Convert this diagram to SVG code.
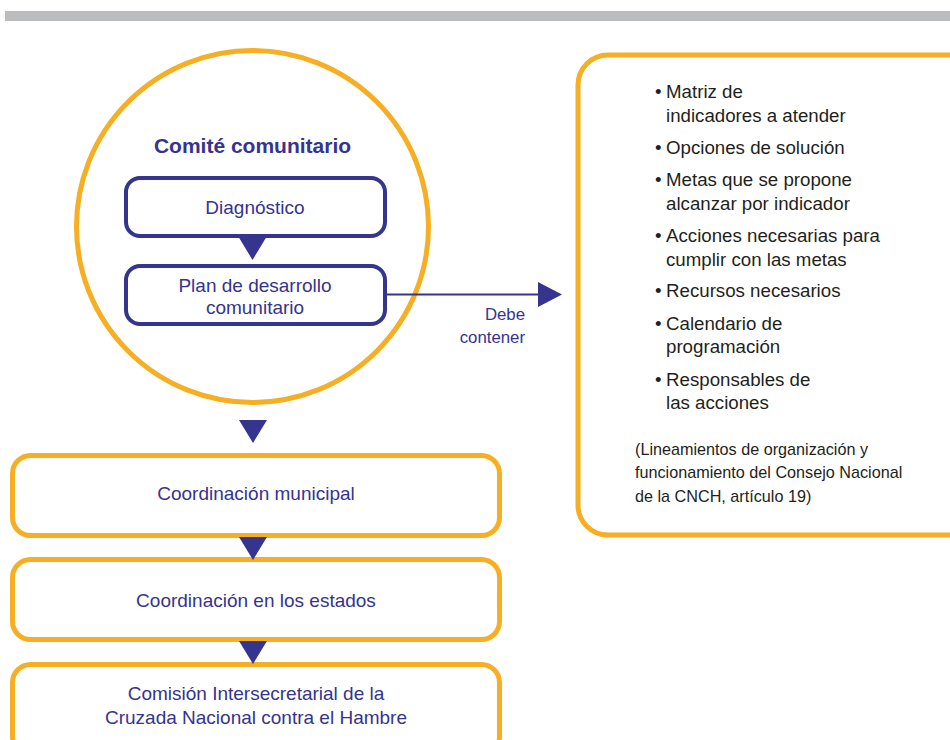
<svg xmlns="http://www.w3.org/2000/svg" width="950" height="740" viewBox="0 0 950 740">
<style>
.org{fill:#fff;stroke:#F6AE23;stroke-width:5}
.nav{fill:#fff;stroke:#35348F;stroke-width:4}
.t{font-family:"Liberation Sans",Arial,sans-serif;fill:#35348F;font-size:19px;text-anchor:middle}
.b{font-family:"Liberation Sans",Arial,sans-serif;fill:#231F20;font-size:18.7px}
.c{font-family:"Liberation Sans",Arial,sans-serif;fill:#231F20;font-size:16.2px}
.tri{fill:#35348F}
</style>
<rect x="5" y="11" width="945" height="10" fill="#BBBCBE"/>
<g id="comite">
<circle class="org" cx="252.5" cy="226.5" r="176"/>
<text class="t" x="252.5" y="153" style="font-weight:bold;font-size:21px">Comité comunitario</text>
</g>
<g id="diagnostico">
<rect class="nav" x="126" y="178" width="259" height="58" rx="14"/>
<text class="t" x="255" y="214">Diagnóstico</text>
</g>
<g id="plan">
<rect class="nav" x="126" y="266" width="259" height="58" rx="14"/>
<text class="t" x="255" y="292">Plan de desarrollo</text>
<text class="t" x="255" y="314">comunitario</text>
</g>
<g id="contenido">
<rect class="org" x="578" y="55" width="400" height="480" rx="30"/>
<g class="b">
<text x="655" y="98">•</text><text x="666" y="98">Matriz de</text>
<text x="666" y="122">indicadores a atender</text>
<text x="655" y="154">•</text><text x="666" y="154">Opciones de solución</text>
<text x="655" y="186">•</text><text x="666" y="186">Metas que se propone</text>
<text x="666" y="210">alcanzar por indicador</text>
<text x="655" y="242">•</text><text x="666" y="242">Acciones necesarias para</text>
<text x="666" y="266">cumplir con las metas</text>
<text x="655" y="297">•</text><text x="666" y="297">Recursos necesarios</text>
<text x="655" y="330">•</text><text x="666" y="330">Calendario de</text>
<text x="666" y="353">programación</text>
<text x="655" y="386">•</text><text x="666" y="386">Responsables de</text>
<text x="666" y="409">las acciones</text>
</g>
<g class="c">
<text x="635" y="455">(Lineamientos de organización y</text>
<text x="635" y="478">funcionamiento del Consejo Nacional</text>
<text x="635" y="502">de la CNCH, artículo 19)</text>
</g>
</g>
<g id="municipal">
<rect class="org" x="12.5" y="455.5" width="487" height="80" rx="18"/>
<text class="t" x="256" y="500">Coordinación municipal</text>
</g>
<g id="estados">
<rect class="org" x="12.5" y="559.5" width="487" height="80" rx="18"/>
<text class="t" x="256" y="607">Coordinación en los estados</text>
</g>
<g id="comision">
<rect class="org" x="12.5" y="664.5" width="487" height="90" rx="18"/>
<text class="t" x="256" y="700">Comisión Intersecretarial de la</text>
<text class="t" x="256" y="724">Cruzada Nacional contra el Hambre</text>
</g>
<g id="connectors">
<polygon class="tri" points="238,236 267,236 252.5,260"/>
<polygon class="tri" points="239,420 267,420 253,443"/>
<polygon class="tri" points="239,537 267,537 253,560"/>
<polygon class="tri" points="239,641 267,641 253,664"/>
<line x1="385" y1="294.5" x2="540" y2="294.5" stroke="#35348F" stroke-width="2"/>
<polygon class="tri" points="538,282 562,294.5 538,307"/>
<text class="t" x="525" y="320" style="text-anchor:end;font-size:16.8px">Debe</text>
<text class="t" x="525" y="343" style="text-anchor:end;font-size:16.8px">contener</text>
</g>
</svg>
